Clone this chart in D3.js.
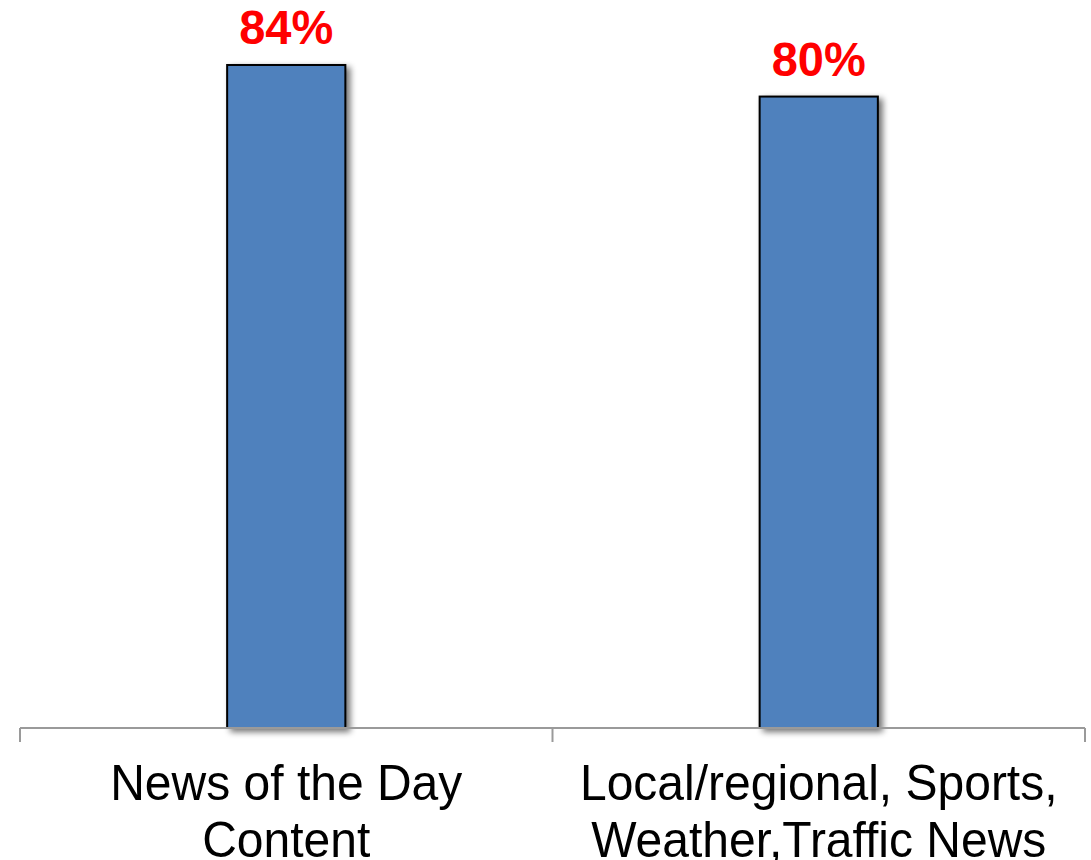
<!DOCTYPE html>
<html>
<head>
<meta charset="utf-8">
<script src="https://cdn.jsdelivr.net/npm/d3@7"></script>
<style>
  html, body { margin: 0; padding: 0; background: #ffffff; }
  svg { display: block; }
</style>
</head>
<body>
<svg id="chart" width="1091" height="860"></svg>
<script>
// Share of respondents by content type
const categories = ["News of the Day Content", "Local/regional, Sports, Weather,Traffic News"];
const categoryLines = [
  ["News of the Day", "Content"],
  ["Local/regional, Sports,", "Weather,Traffic News"]
];
const values = [84, 80];
const valueLabels = ["84%", "80%"];

const svg = d3.select("#chart");
const left = 20, right = 1085, baseY = 728;

const x = d3.scaleBand().domain(categories).range([left, right]).paddingInner(0.778).paddingOuter(0.389);
const y = d3.scaleLinear().domain([0, 100]).range([baseY, baseY - 789.3]);

// soft shadow behind the bars
const defs = svg.append("defs");
const f = defs.append("filter").attr("id", "barShadow")
  .attr("x", "-20%").attr("y", "-5%").attr("width", "140%").attr("height", "110%");
f.append("feGaussianBlur").attr("in", "SourceAlpha").attr("stdDeviation", 3).attr("result", "blur");
f.append("feOffset").attr("in", "blur").attr("dx", 4).attr("dy", 3).attr("result", "off");
f.append("feComponentTransfer").attr("in", "off").attr("result", "shadow")
  .append("feFuncA").attr("type", "linear").attr("slope", 0.55);
const m = f.append("feMerge");
m.append("feMergeNode").attr("in", "shadow");
m.append("feMergeNode").attr("in", "SourceGraphic");

// bars
svg.append("g").selectAll("rect")
  .data(values)
  .join("rect")
  .attr("x", (d, i) => x(categories[i]))
  .attr("y", d => y(d))
  .attr("width", x.bandwidth())
  .attr("height", d => y(0) - y(d))
  .attr("fill", "#4F81BD")
  .attr("stroke", "#000000")
  .attr("stroke-width", 2)
  .attr("filter", "url(#barShadow)");

// category axis
const axis = svg.append("g").attr("transform", `translate(0,${baseY})`);
axis.append("line")
  .attr("x1", left).attr("x2", right)
  .attr("y1", 0).attr("y2", 0)
  .attr("stroke", "#9a9a9a").attr("stroke-width", 2);
const tickPos = [left].concat(categories.map(c => x(c) + x.bandwidth() / 2 + x.step() / 2));
axis.selectAll("line.tick")
  .data(tickPos)
  .join("line")
  .attr("class", "tick")
  .attr("x1", d => d).attr("x2", d => d)
  .attr("y1", 0).attr("y2", 14)
  .attr("stroke", "#9a9a9a").attr("stroke-width", 2);

// category labels
const labels = svg.append("g")
  .attr("font-family", "Arial, 'Liberation Sans', sans-serif")
  .attr("font-size", 48)
  .attr("fill", "#000000")
  .attr("text-anchor", "middle");
categories.forEach((c, i) => {
  const cx = x(c) + x.bandwidth() / 2;
  const t = labels.append("text")
    .attr("transform", `translate(${cx},800) scale(1,1.03)`);
  categoryLines[i].forEach((line, j) => {
    t.append("tspan")
      .attr("x", 0)
      .attr("y", j * 55.3)
      .text(line);
  });
});

// value labels
svg.append("g")
  .attr("font-family", "Arial, 'Liberation Sans', sans-serif")
  .attr("font-size", 47)
  .attr("font-weight", "bold")
  .attr("fill", "#ff0000")
  .attr("text-anchor", "middle")
  .selectAll("text")
  .data(values)
  .join("text")
  .attr("transform", (d, i) => `translate(${x(categories[i]) + x.bandwidth() / 2},${y(d) - 21}) scale(1,1.04)`)
  .text((d, i) => valueLabels[i]);
</script>
</body>
</html>
